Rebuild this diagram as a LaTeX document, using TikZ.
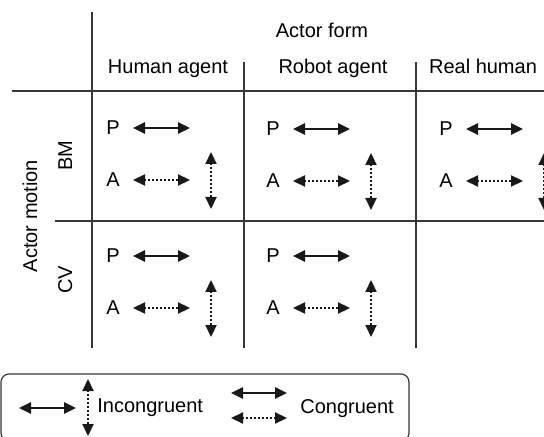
\documentclass[tikz,border=0pt]{standalone}
\usepackage{fontspec}
\setmainfont{Liberation Sans}
\usepackage{tikz}
\usetikzlibrary{arrows.meta}
\definecolor{gridc}{rgb}{0.22, 0.22, 0.22}
\definecolor{arrc}{rgb}{0.1, 0.1, 0.1}
\tikzstyle{lbl}=[inner sep=0pt, font=\fontsize{10}{12}\selectfont]
\tikzstyle{grid}=[gridc, line width=0.6pt]
\tikzstyle{solidarr}=[arrc, line width=1.3pt, {Triangle[length=6pt,width=5.5pt]}-{Triangle[length=6pt,width=5.5pt]}]
\tikzstyle{dotarr}=[solidarr, line width=1.1pt, dash pattern=on 0.9pt off 1.1pt]
% one cell: P and A with their arrows, #1 name, (#2,#3) centre of P
\newcommand{\pacell}[3]{%
  \node[lbl] (p#1) at (#2,#3) {P};
  \node[lbl] (a#1) at (#2,#3+52) {A};
  \draw[solidarr] (#2+20,#3) -- (#2+77,#3);
  \draw[dotarr] (#2+20,#3+52) -- (#2+77,#3+52);
  \draw[dotarr] (#2+98,#3+24) -- (#2+98,#3+81);
}

\begin{document}
\begin{tikzpicture}[x=0.5pt,y=-0.5pt]
\path[use as bounding box, clip] (0,0) rectangle (544,437);
% table lines
\draw[grid] (92,12) -- (92,348);
\draw[grid] (12,91) -- (544,91);
\draw[grid] (55,221) -- (544,221);
\draw[grid] (244,62) -- (244,348);
\draw[grid] (416,62) -- (416,348);
% headings
\node[lbl, anchor=base] (form) at (322,38) {Actor form};
\node[lbl, anchor=base] (human) at (168,74) {Human agent};
\node[lbl, anchor=base] (robot) at (333,74) {Robot agent};
\node[lbl, anchor=base] (real) at (483,74) {Real human};
\node[lbl, anchor=base, rotate=90] (motion) at (37,216) {Actor motion};
\node[lbl, anchor=base, rotate=90] (bm) at (72,156) {BM};
\node[lbl, anchor=base, rotate=90] (cv) at (72,280) {CV};
% cells
\pacell{hb}{113}{128}
\pacell{rb}{273}{129}
\pacell{xb}{446}{129}
\pacell{hc}{113}{256}
\pacell{rc}{273}{256}
% legend
\draw[grid, rounded corners=4pt] (1,374) rectangle (409,441);
\draw[solidarr] (19,408) -- (76,408);
\draw[dotarr] (88,379) -- (88,436);
\node[lbl, anchor=base west] (incon) at (97,412) {Incongruent};
\draw[solidarr] (231,393) -- (287,393);
\draw[dotarr] (231,418) -- (287,418);
\node[lbl, anchor=base west] (con) at (300,413) {Congruent};
\end{tikzpicture}
\end{document}
